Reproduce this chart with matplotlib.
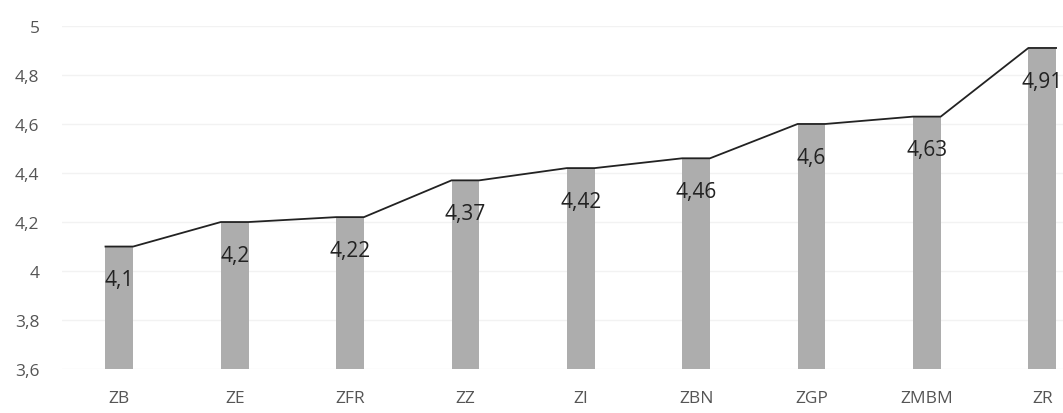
import matplotlib.pyplot as plt
import numpy as np

# categories and mean scores
categories = ['ZB', 'ZE', 'ZFR', 'ZZ', 'ZI', 'ZBN', 'ZGP', 'ZMBM', 'ZR']
values = [4.1, 4.2, 4.22, 4.37, 4.42, 4.46, 4.6, 4.63, 4.91]
labels = ['4,1', '4,2', '4,22', '4,37', '4,42', '4,46', '4,6', '4,63', '4,91']
y_ticks = [3.6, 3.8, 4.0, 4.2, 4.4, 4.6, 4.8, 5.0]
y_tick_labels = ['3,6', '3,8', '4', '4,2', '4,4', '4,6', '4,8', '5']

plt.rcParams['font.family'] = ['Open Sans', 'DejaVu Sans']

fig = plt.figure(figsize=(10.63, 4.14), dpi=100)
ax = fig.add_axes([0.058, 0.106, 0.942, 0.829])

x = np.arange(len(categories))
bar_w = 0.24
base = 3.6
ax.bar(x, np.array(values) - base, bottom=base, width=bar_w,
       color='#adadad', edgecolor='none', zorder=2)

# line running along the bar tops
line_x = np.ravel(np.column_stack([x - bar_w / 2, x + bar_w / 2]))
line_y = np.repeat(values, 2)
ax.plot(line_x, line_y, color='#222222', linewidth=1.3, zorder=3)

for xi, v, lab in zip(x, values, labels):
    ax.annotate(lab, (xi, v), xytext=(0, -24), textcoords='offset points',
                ha='center', va='center', fontsize=15, color='#222222', zorder=4)

ax.set_ylim(3.6, 5.0)
ax.set_xlim(-0.5, 8.18)
ax.set_yticks(y_ticks)
ax.set_yticklabels(y_tick_labels)
ax.set_xticks(x)
ax.set_xticklabels(categories)
ax.tick_params(axis='both', length=0, labelsize=12.5, colors='#555555')
ax.tick_params(axis='x', pad=15)
ax.tick_params(axis='y', pad=16)
ax.grid(axis='y', color='#f2f2f2', linewidth=1, zorder=0)
for s in ax.spines.values():
    s.set_visible(False)

plt.savefig('out.png', format='png')
